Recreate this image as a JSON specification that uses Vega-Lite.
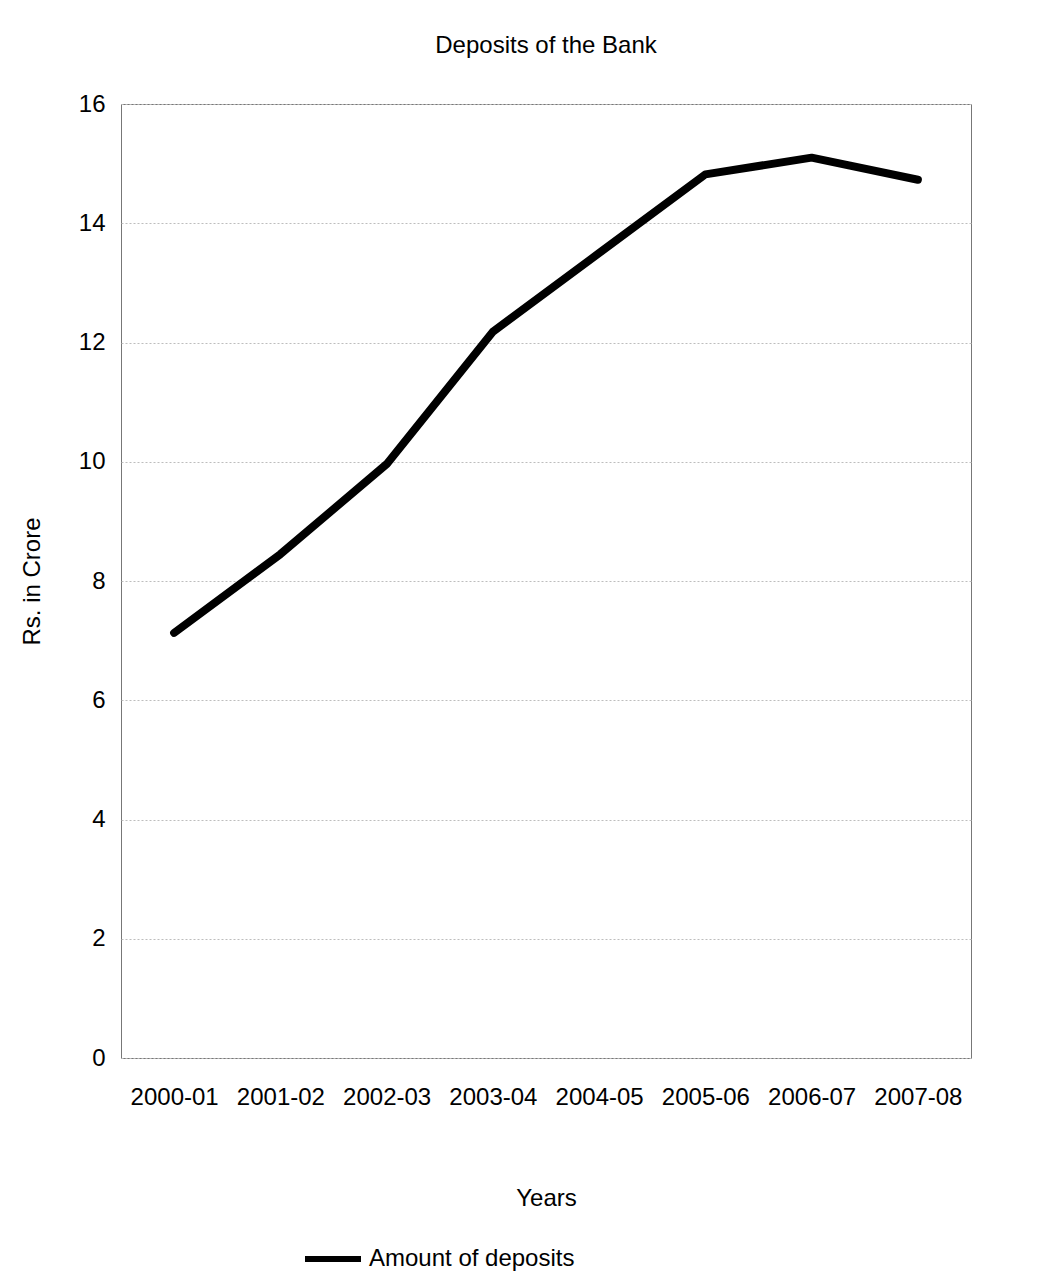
{
  "$schema": "https://vega.github.io/schema/vega-lite/v6.json",
  "width": 850,
  "height": 954,
  "autosize": "none",
  "padding": {"left": 121, "top": 104, "right": 88, "bottom": 223},
  "background": "white",
  "title": {
    "text": "Deposits of the Bank",
    "fontSize": 24,
    "fontWeight": "normal",
    "font": "Liberation Sans",
    "color": "black",
    "offset": 34
  },
  "data": {
    "values": [
      {"year": "2000-01", "deposits": 7.13, "series": "Amount of deposits"},
      {"year": "2001-02", "deposits": 8.45, "series": "Amount of deposits"},
      {"year": "2002-03", "deposits": 9.96, "series": "Amount of deposits"},
      {"year": "2003-04", "deposits": 12.18, "series": "Amount of deposits"},
      {"year": "2004-05", "deposits": 13.5, "series": "Amount of deposits"},
      {"year": "2005-06", "deposits": 14.82, "series": "Amount of deposits"},
      {"year": "2006-07", "deposits": 15.1, "series": "Amount of deposits"},
      {"year": "2007-08", "deposits": 14.73, "series": "Amount of deposits"}
    ]
  },
  "mark": {"type": "line", "strokeWidth": 8, "strokeCap": "round", "strokeJoin": "round"},
  "encoding": {
    "x": {
      "field": "year",
      "type": "ordinal",
      "sort": null,
      "scale": {"type": "point", "padding": 0.5},
      "axis": {
        "title": "Years",
        "titleFontSize": 24,
        "titleFontWeight": "normal",
        "titlePadding": 77,
        "labelAngle": 0,
        "labelFontSize": 24,
        "labelPadding": 27,
        "labelLimit": 300,
        "ticks": false,
        "domain": false,
        "grid": false
      }
    },
    "y": {
      "field": "deposits",
      "type": "quantitative",
      "scale": {"domain": [0, 16], "nice": false},
      "axis": {
        "title": "Rs. in Crore",
        "titleFontSize": 24,
        "titleFontWeight": "normal",
        "titlePadding": 34,
        "values": [0, 2, 4, 6, 8, 10, 12, 14, 16],
        "labelFontSize": 24,
        "labelPadding": 16,
        "ticks": false,
        "domain": false,
        "grid": true,
        "gridColor": "#bdbdbd",
        "gridDash": [2, 2],
        "gridWidth": 1
      }
    },
    "color": {
      "field": "series",
      "type": "nominal",
      "scale": {"range": ["black"]},
      "legend": {
        "title": null,
        "orient": "none",
        "legendX": 181,
        "legendY": 1124,
        "symbolType": "stroke",
        "symbolSize": 3136,
        "symbolStrokeWidth": 6,
        "labelFontSize": 24,
        "labelLimit": 400,
        "labelOffset": 5
      }
    }
  },
  "config": {
    "font": "Liberation Sans",
    "axis": {"labelColor": "black", "titleColor": "black", "labelFont": "Liberation Sans", "titleFont": "Liberation Sans"},
    "legend": {"labelColor": "black", "labelFont": "Liberation Sans"},
    "view": {"stroke": "#777777", "strokeWidth": 1}
  }
}
